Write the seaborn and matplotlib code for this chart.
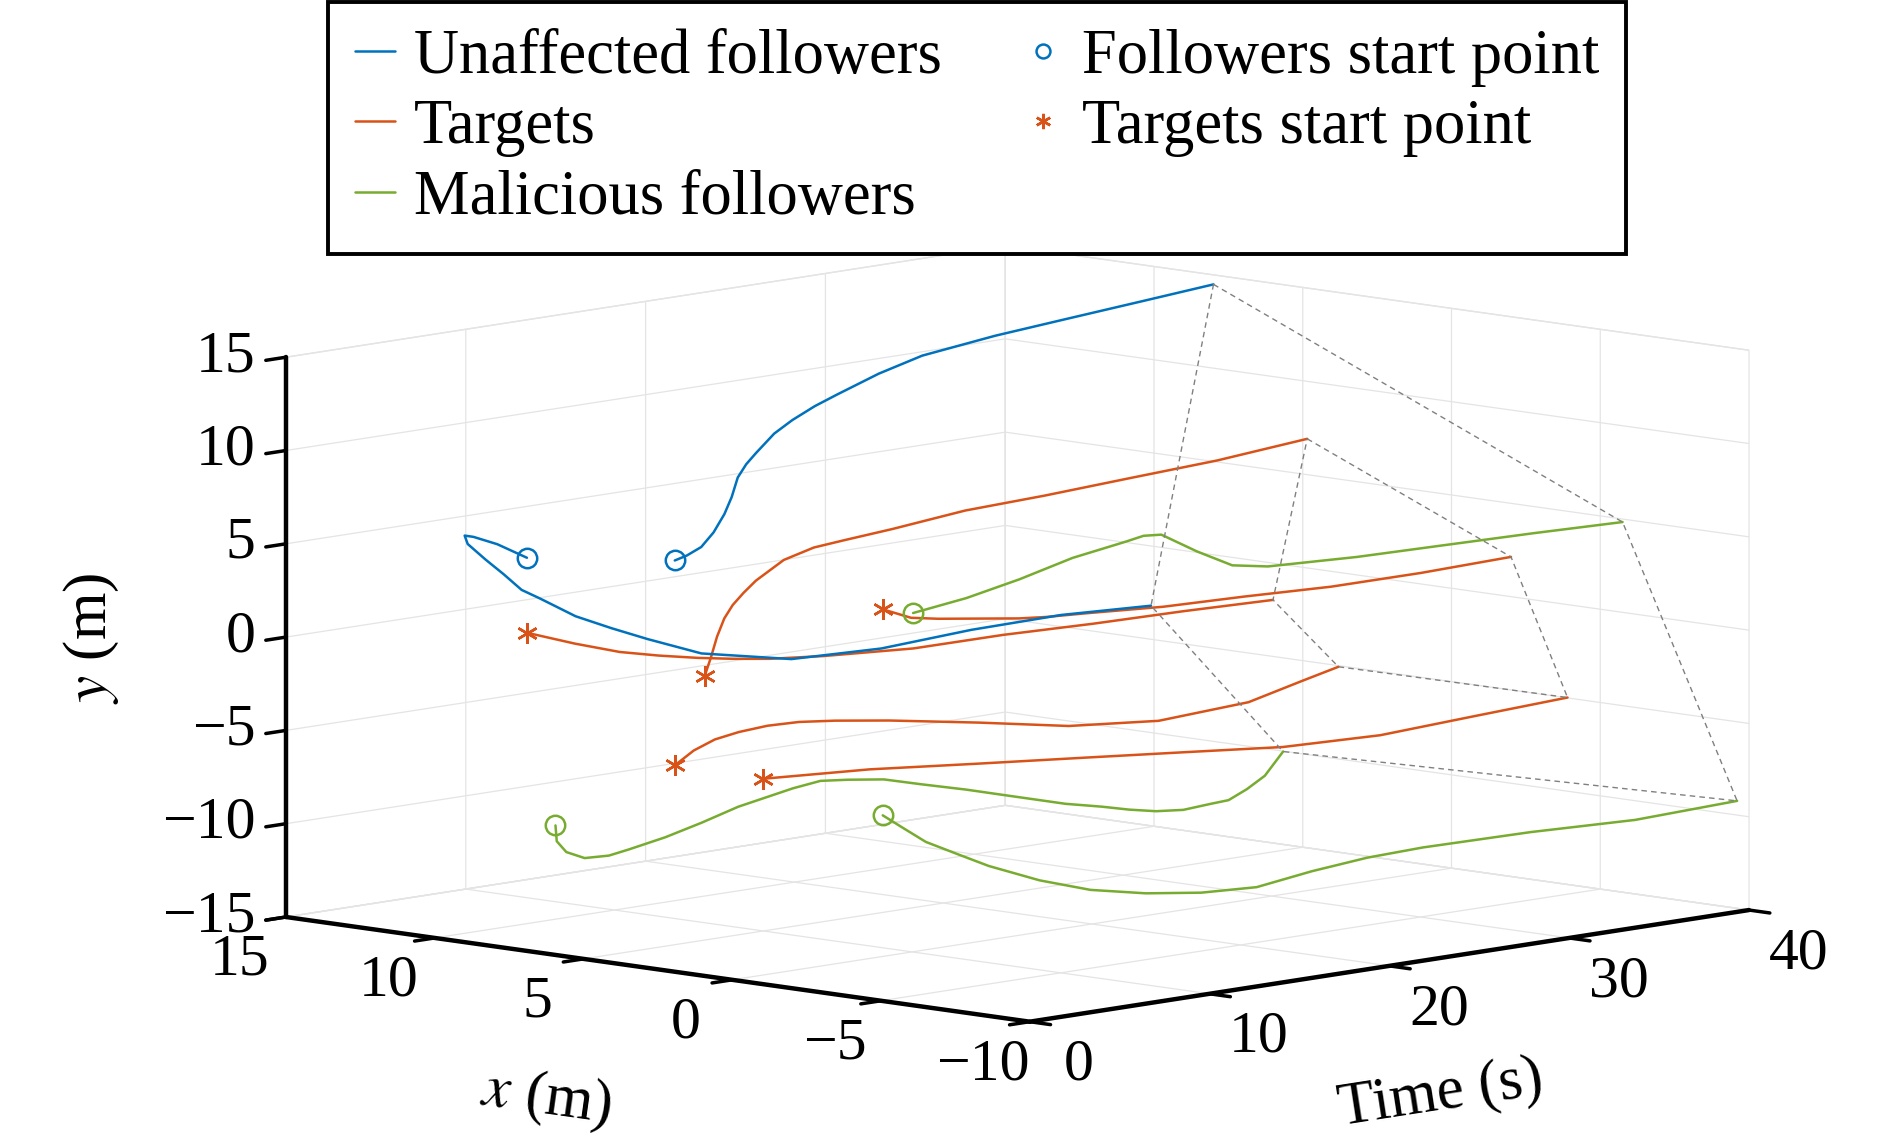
import numpy as np
import matplotlib
matplotlib.use("Agg")
import matplotlib.pyplot as plt
import seaborn as sns
from matplotlib.lines import Line2D
from mpl_toolkits.mplot3d import proj3d

# trajectories: time (s), x (m), y (m)
t_f1 = [0, 0.5, 1, 1.5, 2, 3, 4, 5, 6, 8, 10, 12, 15, 20, 25, 30, 35, 40]
x_f1 = [6.9, 8.2, 9.3, 9.9, 10.1, 10.1, 10.1, 10.1, 10.1, 10.1, 10.1, 10.1, 10.1, 10.1, 10.1, 10.1, 10.1, 10.1]
y_f1 = [6.07, 6.43, 6.5, 6.36, 5.79, 4.8, 3.87, 2.88, 2.28, 1.02, 0.08, -0.8, -2.02, -3.07, -3.25, -3.0, -2.95, -3.2]

t_f2 = [0, 1, 2, 3, 4, 5, 6, 7, 8, 9.5, 11, 12.5, 14, 17, 20, 25, 30, 35, 40]
x_f2 = [1.93, 2.13, 2.25, 2.44, 2.68, 3.04, 3.44, 3.76, 4.04, 4.33, 4.63, 4.78, 4.94, 5.35, 5.7, 6.27, 6.85, 7.42, 8.0]
y_f2 = [7.04, 7.11, 7.39, 7.98, 8.76, 9.44, 10.25, 10.74, 11.12, 11.88, 12.31, 12.8, 13.16, 13.74, 14.18, 14.37, 14.41, 14.45, 14.49]

t_m1 = [0, 3, 6, 9, 12, 13, 14, 15, 16, 18, 20, 25, 30, 35, 40]
x_m1 = [-6.08, -6.06, -6.03, -6.0, -5.98, -5.97, -5.96, -5.955, -5.95, -5.93, -5.92, -5.88, -5.83, -5.79, -5.75]
y_m1 = [6.02, 6.37, 6.92, 7.61, 8.03, 8.19, 8.1, 7.5, 6.9, 5.85, 5.49, 5.24, 5.12, 5.0, 4.84]

t_m2 = [0, 0.5, 1, 2, 3, 4, 6, 8, 10, 13, 14.5, 16, 18, 20, 22.5, 25, 28, 30, 31.5, 33, 34.5, 36, 37, 38, 39, 40]
x_m2 = [5.94, 6.2, 6.18, 6.17, 5.96, 5.9, 5.88, 5.86, 5.84, 5.82, 5.8, 5.79, 5.78, 5.76, 5.75, 5.73, 5.72, 5.71, 5.7, 5.7, 5.69, 5.68, 5.68, 5.67, 5.67, 5.66]
y_m2 = [-8.06, -9.04, -9.69, -10.16, -10.13, -9.94, -9.58, -9.09, -8.53, -7.99, -7.81, -7.97, -8.25, -8.8, -9.46, -10.18,
        -11.04, -11.49, -11.87, -12.18, -12.33, -12.23, -12.18, -11.74, -11.17, -10.02]

t_m3 = [0, 1, 2, 3.5, 5, 7.5, 10, 12.5, 15, 17.5, 20, 22.5, 25, 30, 35, 40]
x_m3 = [-5.06, -5.18, -5.3, -5.45, -5.6, -5.8, -6.0, -6.35, -6.7, -7.05, -7.4, -7.75, -8.1, -8.7, -9.2, -9.6]
y_m3 = [-5.05, -5.89, -6.72, -7.56, -8.39, -9.49, -10.33, -10.81, -11.07, -11.07, -10.51, -10.08, -9.83, -9.62, -9.6, -9.24]

t_t1 = [0, 2, 4, 6, 8, 10, 12, 15, 20, 25, 30, 35, 40]
x_t1 = [6.9, 6.5, 6.2, 6.1, 6.0, 6.0, 6.0, 6.0, 6.0, 6.0, 6.0, 6.0, 6.0]
y_t1 = [2.05, 1.26, 0.58, 0.11, -0.29, -0.64, -0.94, -1.24, -1.58, -1.6, -1.75, -1.83, -1.97]

t_t2 = [0, 1, 2, 3, 4, 5, 6, 8, 10, 12, 15, 20, 25, 30, 35, 40]
x_t2 = [0.92, 1.32, 1.72, 2.08, 2.4, 2.64, 2.83, 3.1, 3.3, 3.49, 3.68, 4.26, 4.6, 4.8, 4.85, 4.85]
y_t2 = [1.1, 1.83, 2.7, 3.45, 3.95, 4.4, 4.86, 5.61, 5.93, 5.98, 6.09, 6.2, 6.18, 6.31, 6.51, 6.92]

t_t3 = [0, 2, 4, 6, 8, 10, 12, 15, 20, 25, 30, 35, 40]
x_t3 = [-5.06, -4.8, -4.5, -4.2, -3.9, -3.6, -3.3, -2.9, -2.4, -2.1, -2.0, -2.0, -2.0]
y_t3 = [5.99, 5.18, 4.76, 4.4, 4.04, 3.68, 3.39, 3.06, 2.54, 2.27, 2.03, 2.02, 2.13]

t_t4 = [0, 2, 4, 6, 8, 10, 12, 15, 20, 25, 30, 35, 38, 40]
x_t4 = [1.93, 2.5, 3.0, 3.4, 3.65, 3.8, 3.8, 3.8, 3.8, 3.8, 3.8, 3.8, 3.8, 3.8]
y_t4 = [-3.94, -3.57, -3.39, -3.38, -3.4, -3.53, -3.76, -4.2, -5.06, -5.99, -6.46, -6.21, -5.51, -5.06]

t_t5 = [0, 5, 10, 15, 20, 25, 30, 35, 40]
x_t5 = [-1.02, -1.6, -2.2, -2.7, -3.1, -3.4, -3.65, -3.8, -3.9]
y_t5 = [-4.0, -4.11, -4.42, -4.74, -5.1, -5.5, -5.56, -5.25, -4.98]

time_ticks = [0, 10, 20, 30, 40]
x_ticks = [-10, -5, 0, 5, 10, 15]
y_ticks = [-15, -10, -5, 0, 5, 10, 15]
legend_labels = ["Unaffected followers", "Targets", "Malicious followers",
                 "Followers start point", "Targets start point"]

sns.set_theme(style="white")
plt.rcParams["font.family"] = ["Liberation Serif", "DejaVu Serif"]
plt.rcParams["mathtext.fontset"] = "stix"
plt.rcParams["text.color"] = "black"
plt.rcParams["axes.labelcolor"] = "black"
blue, orange, green = sns.color_palette(["#0072BD", "#D95319", "#77AC30"])
star = (6, 2, 0)

fig = plt.figure(figsize=(18.9, 11.38), dpi=100)
ax = fig.add_axes([0.05, 0.0, 0.9, 0.8], projection="3d", proj_type="ortho",
                  computed_zorder=False)
ax.view_init(elev=8.5, azim=-136.4)
ax.set_box_aspect((1043, 1027, 566))

followers = [(t_f1, x_f1, y_f1, blue), (t_f2, x_f2, y_f2, blue),
             (t_m1, x_m1, y_m1, green), (t_m2, x_m2, y_m2, green), (t_m3, x_m3, y_m3, green)]
targets = [(t_t1, x_t1, y_t1), (t_t2, x_t2, y_t2), (t_t3, x_t3, y_t3),
           (t_t4, x_t4, y_t4), (t_t5, x_t5, y_t5)]

for t, x, y in targets:
    ax.plot(t, x, y, color=orange, lw=1.8)
for t, x, y, col in followers:
    ax.plot(t, x, y, color=col, lw=1.8)

# final formations (dashed)
f_order = [followers[1], followers[2], followers[4], followers[3], followers[0], followers[1]]
ax.plot([f[0][-1] for f in f_order], [f[1][-1] for f in f_order], [f[2][-1] for f in f_order],
        ls=(0, (4, 3)), color="0.5", lw=1.0)
t_order = [targets[1], targets[2], targets[4], targets[3], targets[0], targets[1]]
ax.plot([g[0][-1] for g in t_order], [g[1][-1] for g in t_order], [g[2][-1] for g in t_order],
        ls=(0, (4, 3)), color="0.5", lw=1.0)

for t, x, y, col in followers:
    ax.plot([t[0]], [x[0]], [y[0]], ls="none", marker="o", ms=14, mfc="none", mec=col, mew=1.8)
for t, x, y in targets:
    ax.plot([t[0]], [x[0]], [y[0]], ls="none", marker=star, ms=15, mec=orange, mew=1.8)

ax.set_xlim(0, 40)
ax.set_ylim(-10, 15)
ax.set_zlim(-15, 15)
ax.set_xticks(time_ticks)
ax.set_yticks(x_ticks)
ax.set_zticks(y_ticks)
ax.tick_params(labelsize=43, colors="black")
ax.tick_params(axis="x", pad=30)
ax.tick_params(axis="y", pad=29)
ax.tick_params(axis="z", pad=4)
for axis in (ax.xaxis, ax.yaxis, ax.zaxis):
    for tick in axis.get_major_ticks():
        tick.label1.set_verticalalignment("center")
for tick in ax.zaxis.get_major_ticks():
    tick.label1.set_horizontalalignment("right")

for axis in (ax.xaxis, ax.yaxis, ax.zaxis):
    axis.set_pane_color((1, 1, 1, 1))
    axis.pane.set_edgecolor("#e4e4e4")
    axis.line.set_color("black")
    axis.line.set_linewidth(3.2)
    axis._axinfo["grid"].update(color="#e4e4e4", linewidth=0.9)
    axis._axinfo["tick"].update(inward_factor=0.35, outward_factor=0.0)
    axis._axinfo["tick"]["linewidth"] = {True: 2.5, False: 1.0}

ax.set_xlabel("Time (s)", fontsize=44, labelpad=100)
ax.xaxis._axinfo["label"].update(ha="right", va="bottom")
ax.set_ylabel("$x$ (m)", fontsize=44, labelpad=64)
ax.yaxis._axinfo["label"].update(va="top")
ax.set_zlabel("$y$ (m)", fontsize=44, labelpad=55)

handles = [Line2D([], [], color=blue, lw=1.8),
           Line2D([], [], color=orange, lw=1.8),
           Line2D([], [], color=green, lw=1.8),
           Line2D([], [], color=blue, ls="none", marker="o", ms=10, mfc="none", mew=1.8),
           Line2D([], [], color=orange, ls="none", marker=star, ms=11, mew=1.8)]
leg = fig.legend(handles, legend_labels, loc="upper center", bbox_to_anchor=(0.517, 0.998),
                 borderaxespad=0, ncol=2, fontsize=45, frameon=True, fancybox=False,
                 edgecolor="black", framealpha=1, handlelength=0.65, handletextpad=0.3,
                 columnspacing=1.3, labelspacing=0.2, borderpad=0.42)
leg.get_frame().set_linewidth(2.8)

# place the 3D box so its bottom corners land where the reference has them
target_a = np.array([0.1513, 0.1942])
target_c = np.array([0.9254, 0.2004])
for _ in range(2):
    fig.canvas.draw()
    inv = fig.transFigure.inverted()
    def to_fig(tt, xx, yy):
        px, py, _ = proj3d.proj_transform(tt, xx, yy, ax.get_proj())
        return inv.transform(ax.transData.transform((px, py)))
    a = to_fig(0, 15, -15)
    c = to_fig(40, -10, -15)
    s = (target_c[0] - target_a[0]) / (c[0] - a[0])
    pos = ax.get_position(original=True)
    center = np.array([pos.x0 + pos.width / 2, pos.y0 + pos.height / 2])
    new_center = target_a - s * (a - center)
    ax.set_position([new_center[0] - s * pos.width / 2, new_center[1] - s * pos.height / 2,
                     s * pos.width, s * pos.height])

fig.savefig("out.png", dpi=100)
